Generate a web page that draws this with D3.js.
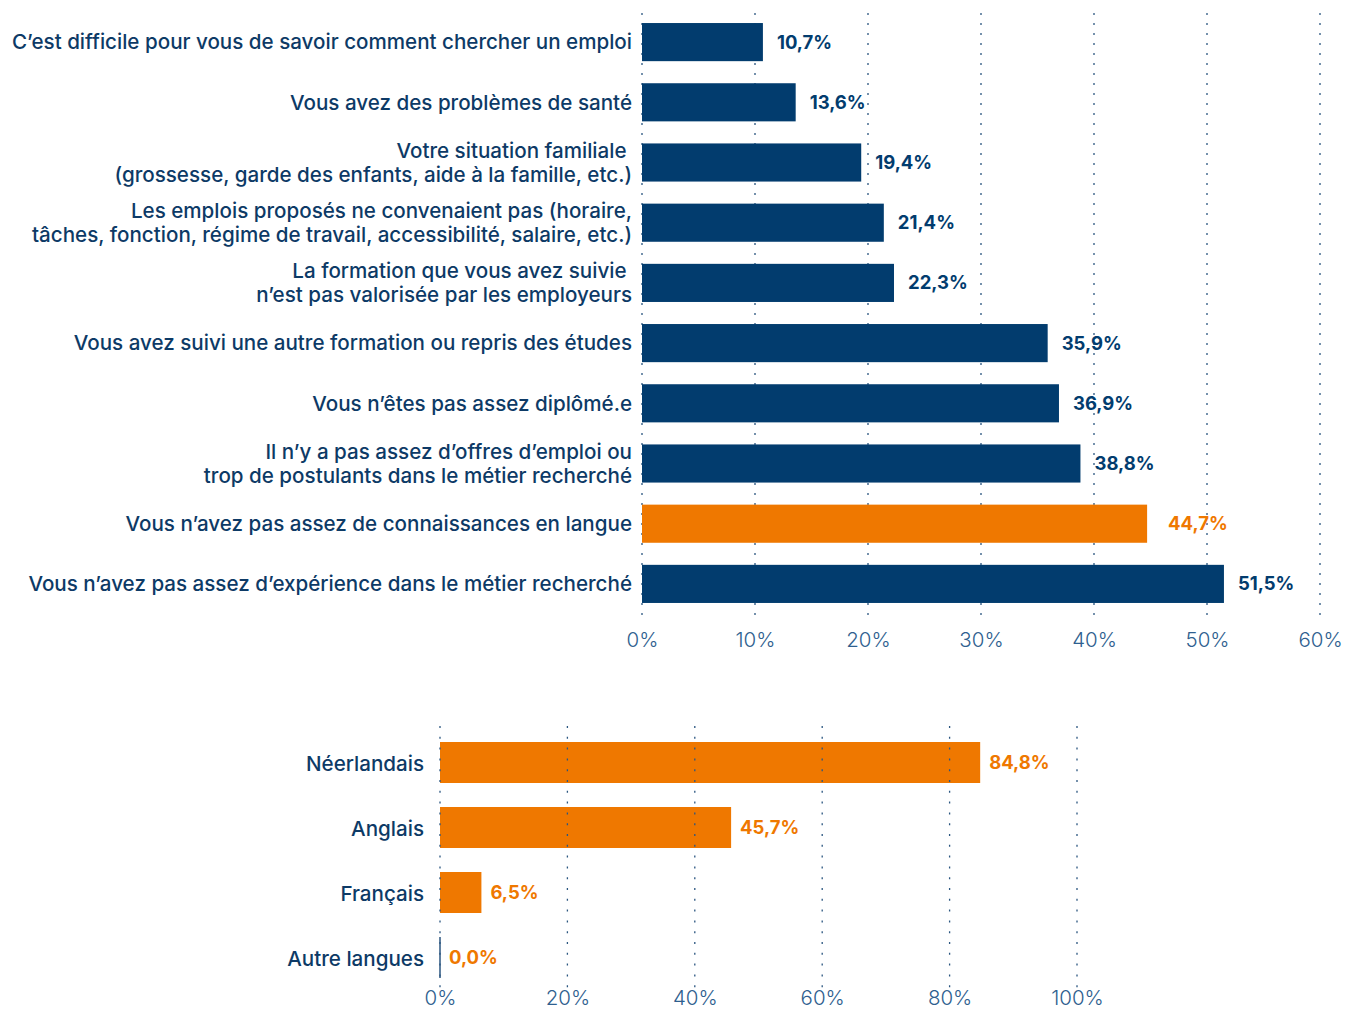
<!DOCTYPE html>
<html><head><meta charset="utf-8">
<script src="https://cdn.jsdelivr.net/npm/d3@7"></script>
<style>
body{margin:0;background:#fff;}
svg{display:block;font-family:Inter, "Noto Sans", sans-serif;}
</style></head>
<body><svg id="chart" width="1357" height="1009"></svg>
<script>
// ---- Data: top chart ----
const reasons = [
  ["C’est difficile pour vous de savoir comment chercher un emploi"],
  ["Vous avez des problèmes de santé"],
  ["Votre situation familiale ", "(grossesse, garde des enfants, aide à la famille, etc.)"],
  ["Les emplois proposés ne convenaient pas (horaire,", "tâches, fonction, régime de travail, accessibilité, salaire, etc.)"],
  ["La formation que vous avez suivie ", "n’est pas valorisée par les employeurs"],
  ["Vous avez suivi une autre formation ou repris des études"],
  ["Vous n’êtes pas assez diplômé.e"],
  ["Il n’y a pas assez d’offres d’emploi ou", "trop de postulants dans le métier recherché"],
  ["Vous n’avez pas assez de connaissances en langue"],
  ["Vous n’avez pas assez d’expérience dans le métier recherché"]
];
const reasonValues = [10.7, 13.6, 19.4, 21.4, 22.3, 35.9, 36.9, 38.8, 44.7, 51.5];
const reasonHighlight = [false,false,false,false,false,false,false,false,true,false];
const topTicks = [0, 10, 20, 30, 40, 50, 60];

// ---- Data: bottom chart ----
const languages = ["Néerlandais", "Anglais", "Français", "Autre langues"];
const languageValues = [84.8, 45.7, 6.5, 0.0];
const bottomTicks = [0, 20, 40, 60, 80, 100];

const NAVY = "#023c6e", ORANGE = "#ef7800", GRID = "#2b5680", AXIS = "#2f5f8f", LABEL = "#0d3a66";
const fmt = v => d3.format(".1f")(v).replace(".", ",") + "%";

const svg = d3.select("#chart");

// ---------- Top chart ----------
const xTop = d3.scaleLinear().domain([0, 60]).range([642, 1320]);
const yTop = d3.scaleBand().domain(d3.range(reasons.length)).range([12, 614]).paddingInner(22/60).paddingOuter(11/60);

const gTop = svg.append("g");
gTop.append("g").selectAll("line").data(topTicks).join("line")
  .attr("x1", d => xTop(d)).attr("x2", d => xTop(d))
  .attr("y1", 13).attr("y2", 615)
  .attr("stroke", GRID).attr("stroke-width", 1.3).attr("stroke-dasharray", "2,8");

gTop.append("g").selectAll("rect").data(reasonValues).join("rect")
  .attr("x", xTop(0)).attr("y", (d, i) => yTop(i))
  .attr("width", d => xTop(d) - xTop(0)).attr("height", yTop.bandwidth())
  .attr("fill", (d, i) => reasonHighlight[i] ? ORANGE : NAVY);

gTop.append("g").selectAll("text").data(reasonValues).join("text")
  .attr("x", (d, i) => xTop(d) + (reasonHighlight[i] ? 21 : 14))
  .attr("y", (d, i) => yTop(i) + yTop.bandwidth() / 2)
  .attr("dy", "0.35em")
  .attr("font-size", 18.5).attr("font-weight", 700)
  .attr("fill", (d, i) => reasonHighlight[i] ? ORANGE : NAVY)
  .text(d => fmt(d));

const catLabels = gTop.append("g").selectAll("text").data(reasons).join("text")
  .attr("text-anchor", "end")
  .attr("font-size", 20.6).attr("font-weight", 500)
  .attr("fill", LABEL)
  .attr("y", (d, i) => yTop(i) + yTop.bandwidth() / 2);
catLabels.each(function(lines) {
  const t = d3.select(this);
  const n = lines.length;
  lines.forEach((ln, k) => {
    t.append("tspan").attr("x", 632)
      .attr("dy", k === 0 ? ((0.35 - (n - 1) * 0.58) + "em") : "1.16em")
      .style("white-space", "pre")
      .text(ln);
  });
});

const axTop = d3.axisBottom(xTop).tickValues(topTicks).tickFormat(d => d + "%").tickSize(0).tickPadding(0);
const axTopG = svg.append("g").attr("transform", "translate(0,640)").call(axTop);
axTopG.select(".domain").remove();
axTopG.selectAll("text").attr("dy", "0.35em").attr("font-size", 20.5).attr("font-weight", 300)
  .attr("fill", AXIS).attr("font-family", "Inter, sans-serif");

// ---------- Bottom chart ----------
const xBot = d3.scaleLinear().domain([0, 100]).range([440, 1077]);
const yBot = d3.scaleBand().domain(d3.range(languages.length)).range([730, 990]).paddingInner(24/65).paddingOuter(12/65);

const gBot = svg.append("g");
gBot.append("g").selectAll("rect").data(languageValues.filter(v => v > 0)).join("rect")
  .attr("x", xBot(0)).attr("y", (d, i) => yBot(i))
  .attr("width", d => xBot(d) - xBot(0)).attr("height", yBot.bandwidth())
  .attr("fill", ORANGE);
gBot.append("g").selectAll("line").data(languageValues.map((v, i) => [v, i]).filter(d => d[0] === 0)).join("line")
  .attr("x1", d => xBot(d[0])).attr("x2", d => xBot(d[0]))
  .attr("y1", d => yBot(d[1])).attr("y2", d => yBot(d[1]) + yBot.bandwidth())
  .attr("stroke", GRID).attr("stroke-width", 1.5);

gBot.append("g").selectAll("line").data(bottomTicks).join("line")
  .attr("x1", d => xBot(d)).attr("x2", d => xBot(d))
  .attr("y1", 726).attr("y2", 988)
  .attr("stroke", GRID).attr("stroke-width", 1.3).attr("stroke-dasharray", "2,8.8");

gBot.append("g").selectAll("text").data(languageValues).join("text")
  .attr("x", d => xBot(d) + 9)
  .attr("y", (d, i) => yBot(i) + yBot.bandwidth() / 2)
  .attr("dy", "0.35em")
  .attr("font-size", 18.5).attr("font-weight", 700)
  .attr("fill", ORANGE)
  .text(d => fmt(d));

gBot.append("g").selectAll("text").data(languages).join("text")
  .attr("x", 424)
  .attr("y", (d, i) => yBot(i) + yBot.bandwidth() / 2 + 1)
  .attr("dy", "0.35em")
  .attr("text-anchor", "end")
  .attr("font-size", 20.6).attr("font-weight", 500)
  .attr("fill", LABEL)
  .text(d => d);

const axBot = d3.axisBottom(xBot).tickValues(bottomTicks).tickFormat(d => d + "%").tickSize(0).tickPadding(0);
const axBotG = svg.append("g").attr("transform", "translate(0,998)").call(axBot);
axBotG.select(".domain").remove();
axBotG.selectAll("text").attr("dy", "0.35em").attr("font-size", 20.5).attr("font-weight", 300)
  .attr("fill", AXIS).attr("font-family", "Inter, sans-serif");
</script></body></html>
